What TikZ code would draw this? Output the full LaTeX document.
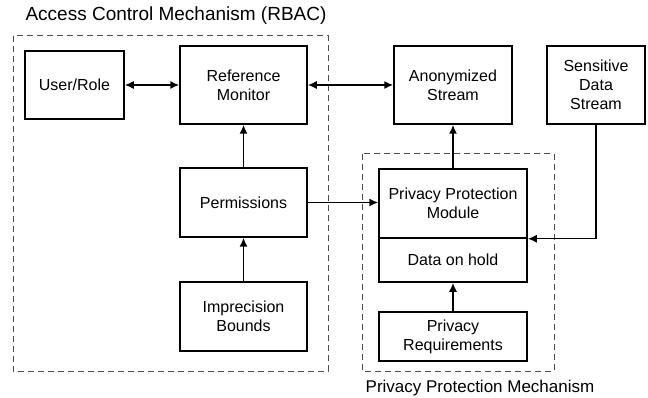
\documentclass[tikz,border=0pt]{standalone}
\usepackage{fontspec}
\setmainfont{Liberation Sans}
\usetikzlibrary{arrows.meta}

\begin{document}
\begin{tikzpicture}[x=1pt, y=-1pt,
		block/.style={draw, line width=1.5pt, align=center, inner sep=2pt,
			font=\fontsize{16}{19}\selectfont},
		group/.style={draw=black!70, line width=1pt, dash pattern=on 6pt off 4pt},
		conn/.style={line width=1.5pt, -{Latex[length=9pt,width=8pt]}},
		biconn/.style={line width=1.5pt, {Latex[length=9pt,width=8pt]}-{Latex[length=9pt,width=8pt]}}]
	\useasboundingbox (0,0) rectangle (648,398);

	% dashed groups
	\draw[group] (13,36) rectangle (328,371);
	\draw[group] (362,154) rectangle (554,371);
	\node[font=\fontsize{19}{22}\selectfont] (rbac) at (176,16) {Access Control Mechanism (RBAC)};
	\node[font=\fontsize{17}{20}\selectfont] (ppmech) at (480,388) {Privacy Protection Mechanism};

	% access control side
	\draw
		(74.5,85) node[block, minimum width=99pt, minimum height=68pt] (user) {User/Role}
		(243.5,85) node[block, minimum width=127pt, minimum height=78pt] (refmon) {Reference\\Monitor}
		(243.5,202.5) node[block, minimum width=127pt, minimum height=69pt] (perm) {Permissions}
		(243.5,316.5) node[block, minimum width=127pt, minimum height=69pt] (impr) {Imprecision\\Bounds};

	% streams and privacy side
	\draw
		(453,85) node[block, minimum width=118pt, minimum height=78pt] (anon) {Anonymized\\Stream}
		(596,85) node[block, minimum width=98pt, minimum height=78pt] (sds) {Sensitive\\Data\\Stream}
		(453,203.5) node[block, minimum width=148pt, minimum height=69pt] (ppm) {Privacy Protection\\Module}
		(453,260) node[block, minimum width=148pt, minimum height=44pt] (hold) {Data on hold}
		(453,336.5) node[block, minimum width=148pt, minimum height=49pt] (preq) {Privacy\\Requirements};

	\draw[biconn] (user) -- (refmon);
	\draw[biconn] (refmon) -- (anon);
	\draw[conn] (perm) -- (refmon);
	\draw[conn] (impr) -- (perm);
	\draw[conn] (perm.east) -- (perm.east -| ppm.west);
	\draw[conn] (ppm) -- (anon);
	\draw[conn] (sds.south) |- (ppm.south east);
	\draw[conn] (preq) -- (hold);
\end{tikzpicture}
\end{document}
